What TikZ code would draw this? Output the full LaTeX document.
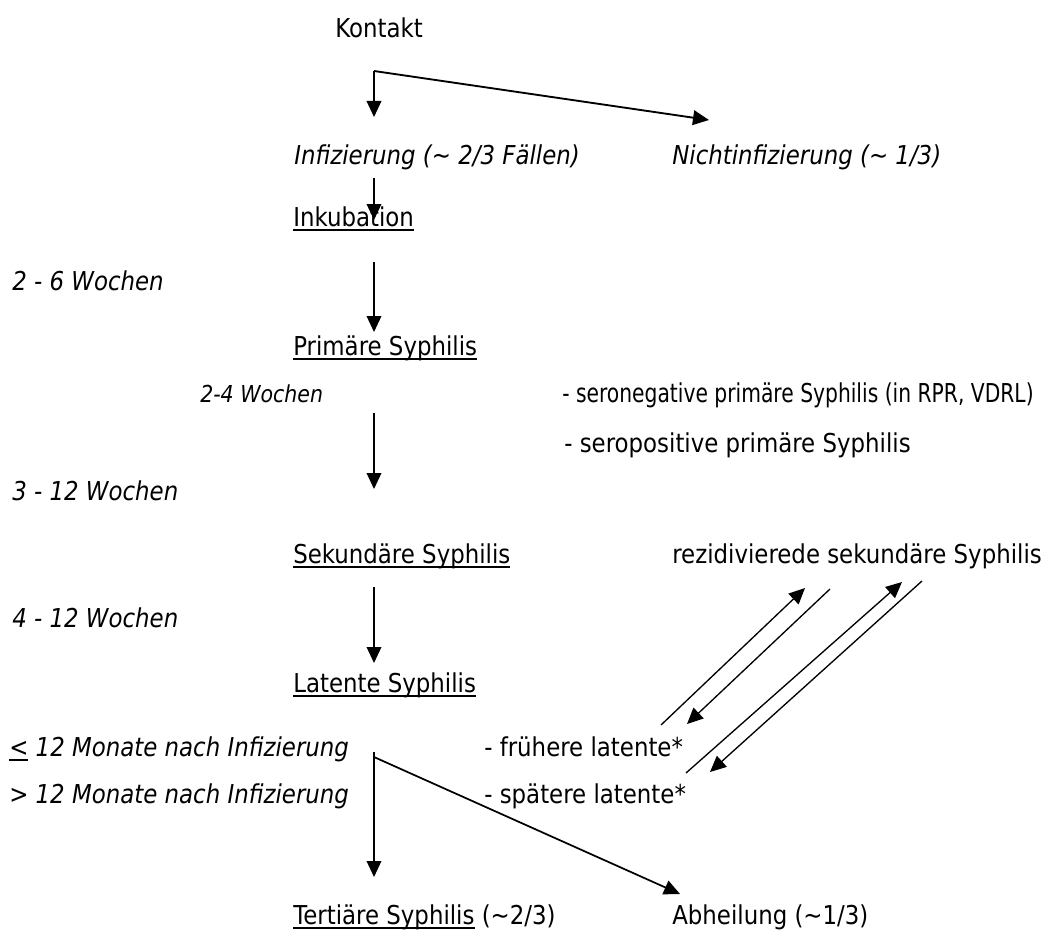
\documentclass[tikz,border=0pt]{standalone}
\usepackage{fontspec}
\setmainfont{DejaVu Sans}[FakeStretch=0.88]
\usetikzlibrary{arrows.meta}
\newcommand{\strich}[1]{\setbox0\hbox{#1}\rlap{\rule[-3.75pt]{\wd0}{1.4pt}}\box0\relax}

\begin{document}
\begin{tikzpicture}[x=0.75pt, y=-0.75pt,
  txt/.style={anchor=base west, inner sep=0pt, font=\fontsize{19.5}{23}\selectfont},
  zeit/.style={txt, font=\fontsize{19.5}{23}\selectfont\itshape},
  klein/.style={txt, font=\fontsize{17.5}{21}\selectfont\itshape},
  pfeil/.style={-{Triangle[length=12pt,width=11pt]}, line width=1pt},
  linie/.style={line width=1pt}]
  \useasboundingbox (0,0) rectangle (1049,938);
  % stages
  \node[txt] (kontakt) at (335,38) {Kontakt};
  \node[zeit] (infiz) at (294,165) {Infizierung (\textasciitilde{} 2/3 Fällen)};
  \node[zeit] (nichtinf) at (672,165) {Nichtinfizierung (\textasciitilde{} 1/3)};
  \node[txt] (inkub) at (293,226) {\strich{Inkubation}};
  \node[txt] (prim) at (293,355) {\strich{Primäre Syphilis}};
  \node[txt] (sek) at (293,563) {\strich{Sekundäre Syphilis}};
  \node[txt] (lat) at (293,692) {\strich{Latente Syphilis}};
  \node[txt] (tert) at (293,924) {\strich{Tertiäre Syphilis} (\textasciitilde2/3)};
  \node[txt] (heil) at (672,924) {Abheilung (\textasciitilde1/3)};
  % time spans
  \node[zeit] (w26) at (12,290) {2 - 6 Wochen};
  \node[klein] (w24) at (200,402) {2-4 Wochen};
  \node[zeit] (w312) at (12,500) {3 - 12 Wochen};
  \node[zeit] (w412) at (12,627) {4 - 12 Wochen};
  \node[zeit] (m1) at (9,756) {\upshape\strich{<} \itshape 12 Monate nach Infizierung};
  \node[zeit] (m2) at (9,803) {> 12 Monate nach Infizierung};
  % sub forms
  \node[txt] (seroneg) at (562,402) {\scalebox{0.886}[1]{- seronegative primäre Syphilis (in RPR, VDRL)}};
  \node[txt] (seropos) at (564,452) {- seropositive primäre Syphilis};
  \node[txt] (rezid) at (672,563) {rezidivierede sekundäre Syphilis};
  \node[txt] (frueh) at (484,756) {- frühere latente*};
  \node[txt] (spaet) at (484,803) {- spätere latente*};
  % arrow ends
  \coordinate (k0) at (374,71);
  \coordinate (k1) at (374,117);
  \coordinate (k2) at (709,120);
  \coordinate (i0) at (374,178);
  \coordinate (i1) at (374,220);
  \coordinate (p0) at (374,262);
  \coordinate (p1) at (374,332);
  \coordinate (s0) at (374,413);
  \coordinate (s1) at (374,489);
  \coordinate (l0) at (374,587);
  \coordinate (l1) at (374,663);
  \coordinate (t0) at (374,752);
  \coordinate (t1) at (374,877);
  \coordinate (t2) at (374,757);
  \coordinate (h1) at (680,894);
  \coordinate (r1a) at (661,725);
  \coordinate (r1b) at (805,588);
  \coordinate (r2a) at (830,589);
  \coordinate (r2b) at (687,724);
  \coordinate (r3a) at (686,773);
  \coordinate (r3b) at (902,582);
  \coordinate (r4a) at (922,581);
  \coordinate (r4b) at (710,772);
  % connectors
  \foreach \a/\b in {k0/k1, i0/i1, p0/p1, s0/s1, l0/l1, t0/t1}
    \draw[pfeil] (\a) -- (\b);
  \draw[pfeil, line width=1.4pt] (k0) -- (k2);
  \draw[pfeil, line width=1.3pt] (t2) -- (h1);
  \foreach \a/\b in {r1a/r1b, r2a/r2b, r3a/r3b, r4a/r4b}
    \draw[pfeil] (\a) -- (\b);
\end{tikzpicture}
\end{document}
